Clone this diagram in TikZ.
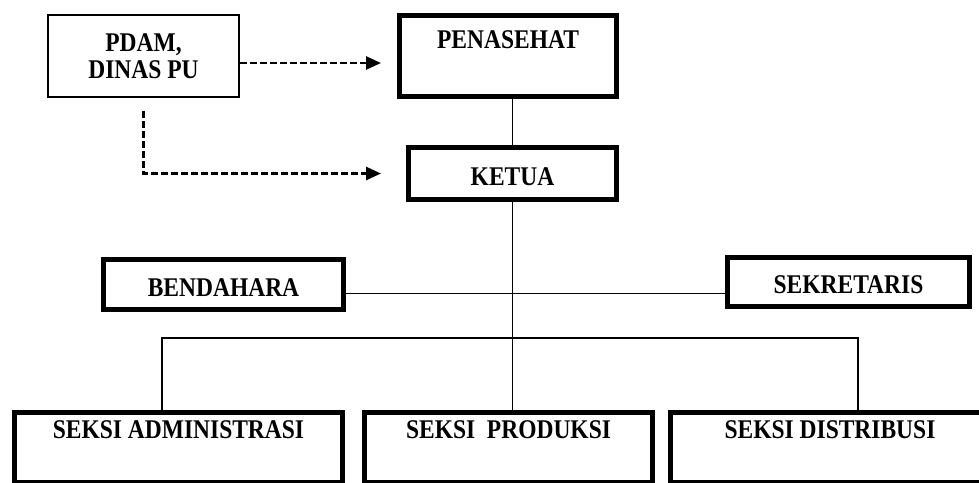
\documentclass[tikz,border=0pt]{standalone}
\usepackage{fontspec}
\setmainfont[FakeStretch=0.87]{Liberation Serif}
\usetikzlibrary{arrows.meta}
\begin{document}
\begin{tikzpicture}[x=1pt, y=-1pt, line join=miter,
    font=\fontsize{27}{27}\selectfont\bfseries,
    kotak/.style={draw, line width=5pt, inner sep=0pt, text height=24pt},
    kotaktipis/.style={draw, line width=2pt, inner sep=0pt, align=center},
    judul/.style={inner sep=0pt},
    garis/.style={line width=1.8pt},
    putus/.style={line width=2.6pt, dash pattern=on 6.5pt off 3.5pt,
      -{Triangle[length=15pt,width=13pt]}}]
    \useasboundingbox (0,0) rectangle (979,482);
    \clip (0,0) rectangle (979,482);
    \fill[white] (0,0) rectangle (979,482);
    % kotak atas
    \node[kotaktipis, minimum width=191pt, minimum height=82pt] (pdam) at (143.5,56) {PDAM,\\DINAS PU};
    \node[kotak, minimum width=217pt, minimum height=81pt] (penasehat) at (508,56) {};
    \node[judul] (tpenasehat) at ([yshift=-26.5pt]penasehat.north) {PENASEHAT};
    \node[kotak, minimum width=208pt, minimum height=52pt] (ketua) at (512.5,173.5) {KETUA};
    % bendahara, sekretaris
    \node[kotak, minimum width=240pt, minimum height=50pt] (bendahara) at (223.5,284.5) {BENDAHARA};
    \node[kotak, minimum width=242pt, minimum height=49pt] (sekretaris) at (848.5,282) {SEKRETARIS};
    % seksi-seksi
    \node[kotak, minimum width=328pt, minimum height=70pt] (adm) at (178.5,447.5) {};
    \node[kotak, minimum width=288pt, minimum height=70pt] (produksi) at (508.5,447.5) {};
    \node[kotak, minimum width=319pt, minimum height=70pt] (distribusi) at (830,447.5) {};
    \node[judul] (tadm) at ([yshift=-19.5pt]adm.north) {SEKSI ADMINISTRASI};
    \node[judul] (tproduksi) at ([yshift=-19.5pt]produksi.north) {SEKSI\ \ PRODUKSI};
    \node[judul] (tdistribusi) at ([yshift=-19.5pt]distribusi.north) {SEKSI DISTRIBUSI};
    % garis komando
    \draw[garis] (ketua.north) -- (ketua.north |- penasehat.south);
    \draw[garis] (ketua.south) -- (ketua.south |- produksi.north);
    \draw[garis] ([yshift=-9pt]bendahara.east) -- ([yshift=-9pt]bendahara.east -| sekretaris.west);
    \coordinate (busL) at (162,338);
    \coordinate (busR) at (858,338);
    \draw[garis] (adm.north -| busL) -- (busL) -- (busR) -- (distribusi.north -| busR);
    % garis koordinasi
    \draw[putus, shorten >=16pt] ([yshift=-7pt]pdam.east) -- ([yshift=-7pt]pdam.east -| penasehat.west);
    \draw[putus, shorten <=13pt, shorten >=25pt] (pdam.south) |- (ketua.west);
\end{tikzpicture}
\end{document}
